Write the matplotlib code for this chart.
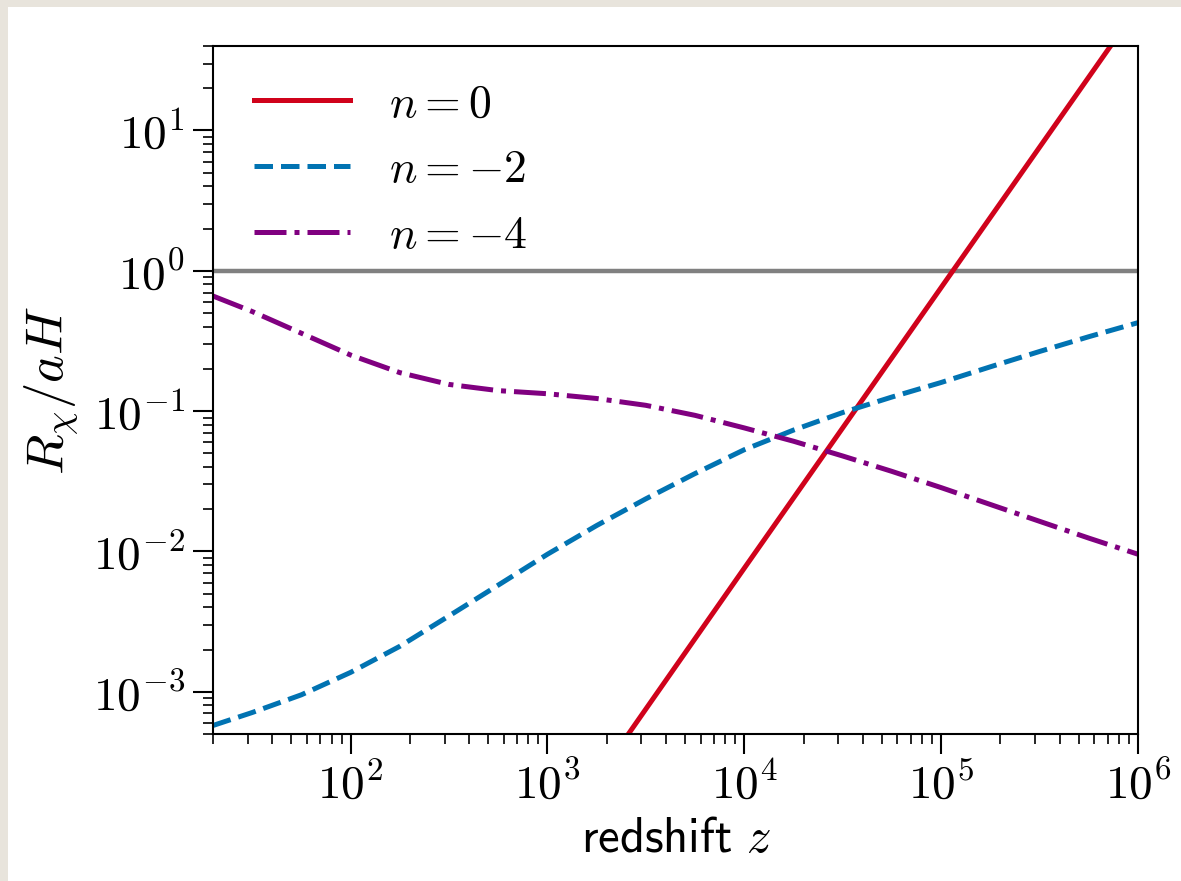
import matplotlib
matplotlib.use("Agg")
import matplotlib.pyplot as plt
from matplotlib.patches import Rectangle
from matplotlib.ticker import FuncFormatter
import numpy as np

plt.rcParams['mathtext.fontset'] = 'cm'
plt.rcParams['font.family'] = ['DejaVu Sans']

# ---- data ----
z_red = [2.5e3, 1e4, 1e5, 1e6]
R_red = [4.7e-4, 7.6e-3, 0.76, 76.0]

z_grid = [20, 31.6, 56.2, 1e2, 178, 316, 562, 1e3, 1.78e3, 3.16e3, 5.62e3,
          1e4, 1.78e4, 3.16e4, 5.62e4, 1e5, 1.78e5, 3.16e5, 5.62e5, 1e6]
R_blue = [5.75e-4, 7.11e-4, 9.51e-4, 1.374e-3, 2.11e-3, 3.47e-3, 5.75e-3,
          9.55e-3, 1.531e-2, 2.37e-2, 3.59e-2, 5.31e-2, 7.33e-2, 9.77e-2,
          0.126, 0.160, 0.207, 0.266, 0.339, 0.427]
R_purple = [0.661, 0.513, 0.359, 0.251, 0.188, 0.155, 0.140, 0.133, 0.123,
            0.110, 0.0933, 0.0759, 0.0610, 0.0479, 0.0372, 0.0285, 0.0216,
            0.0164, 0.01245, 0.00955]

labels = [r'$n=0$', r'$n=-2$', r'$n=-4$']
colors = ['#d0021b', '#0173b2', '#800080']

fig = plt.figure(figsize=(11.81, 8.81), dpi=100)
fig.patch.set_facecolor('#e8e4dc')
fig.add_artist(Rectangle((8/1181, 0), 1, 1 - 7/881, transform=fig.transFigure,
                         facecolor='white', edgecolor='none', zorder=-10))

ax = fig.add_axes([213/1181, 1 - 734/881, (1138-213)/1181, (734-46)/881])
ax.plot(z_red, R_red, color=colors[0], lw=3.6, ls='-', label=labels[0])
ax.plot(z_grid, R_blue, color=colors[1], lw=3.6, ls='--', label=labels[1])
ax.plot(z_grid, R_purple, color=colors[2], lw=3.6, ls='-.', label=labels[2])
ax.axhline(1.0, color='#808080', lw=3.2, zorder=1)

ax.set_xscale('log')
ax.set_yscale('log')
ax.set_xlim(20, 1e6)
ax.set_ylim(5e-4, 40)

fmt = FuncFormatter(lambda v, p: r'$10^{%d}$' % int(round(np.log10(v))))
ax.xaxis.set_major_formatter(fmt)
ax.yaxis.set_major_formatter(fmt)

for s in ax.spines.values():
    s.set_linewidth(1.5)

ax.tick_params(which='major', direction='out', length=14.4, width=1.5, labelsize=34, pad=6)
ax.tick_params(which='minor', direction='out', length=7.2, width=1.2)

ax.set_xlabel(r'$\mathsf{redshift}\ z$', fontsize=35, labelpad=4)
ax.set_ylabel(r'$R_\chi/aH$', fontsize=38, labelpad=8)

leg = ax.legend(loc='upper left', frameon=False, fontsize=33, handlelength=2.1,
                handletextpad=0.85, labelspacing=0.45, borderaxespad=0.45,
                bbox_to_anchor=(0.002, 1.005))

fig.savefig('out.png', dpi=100, facecolor=fig.get_facecolor())
